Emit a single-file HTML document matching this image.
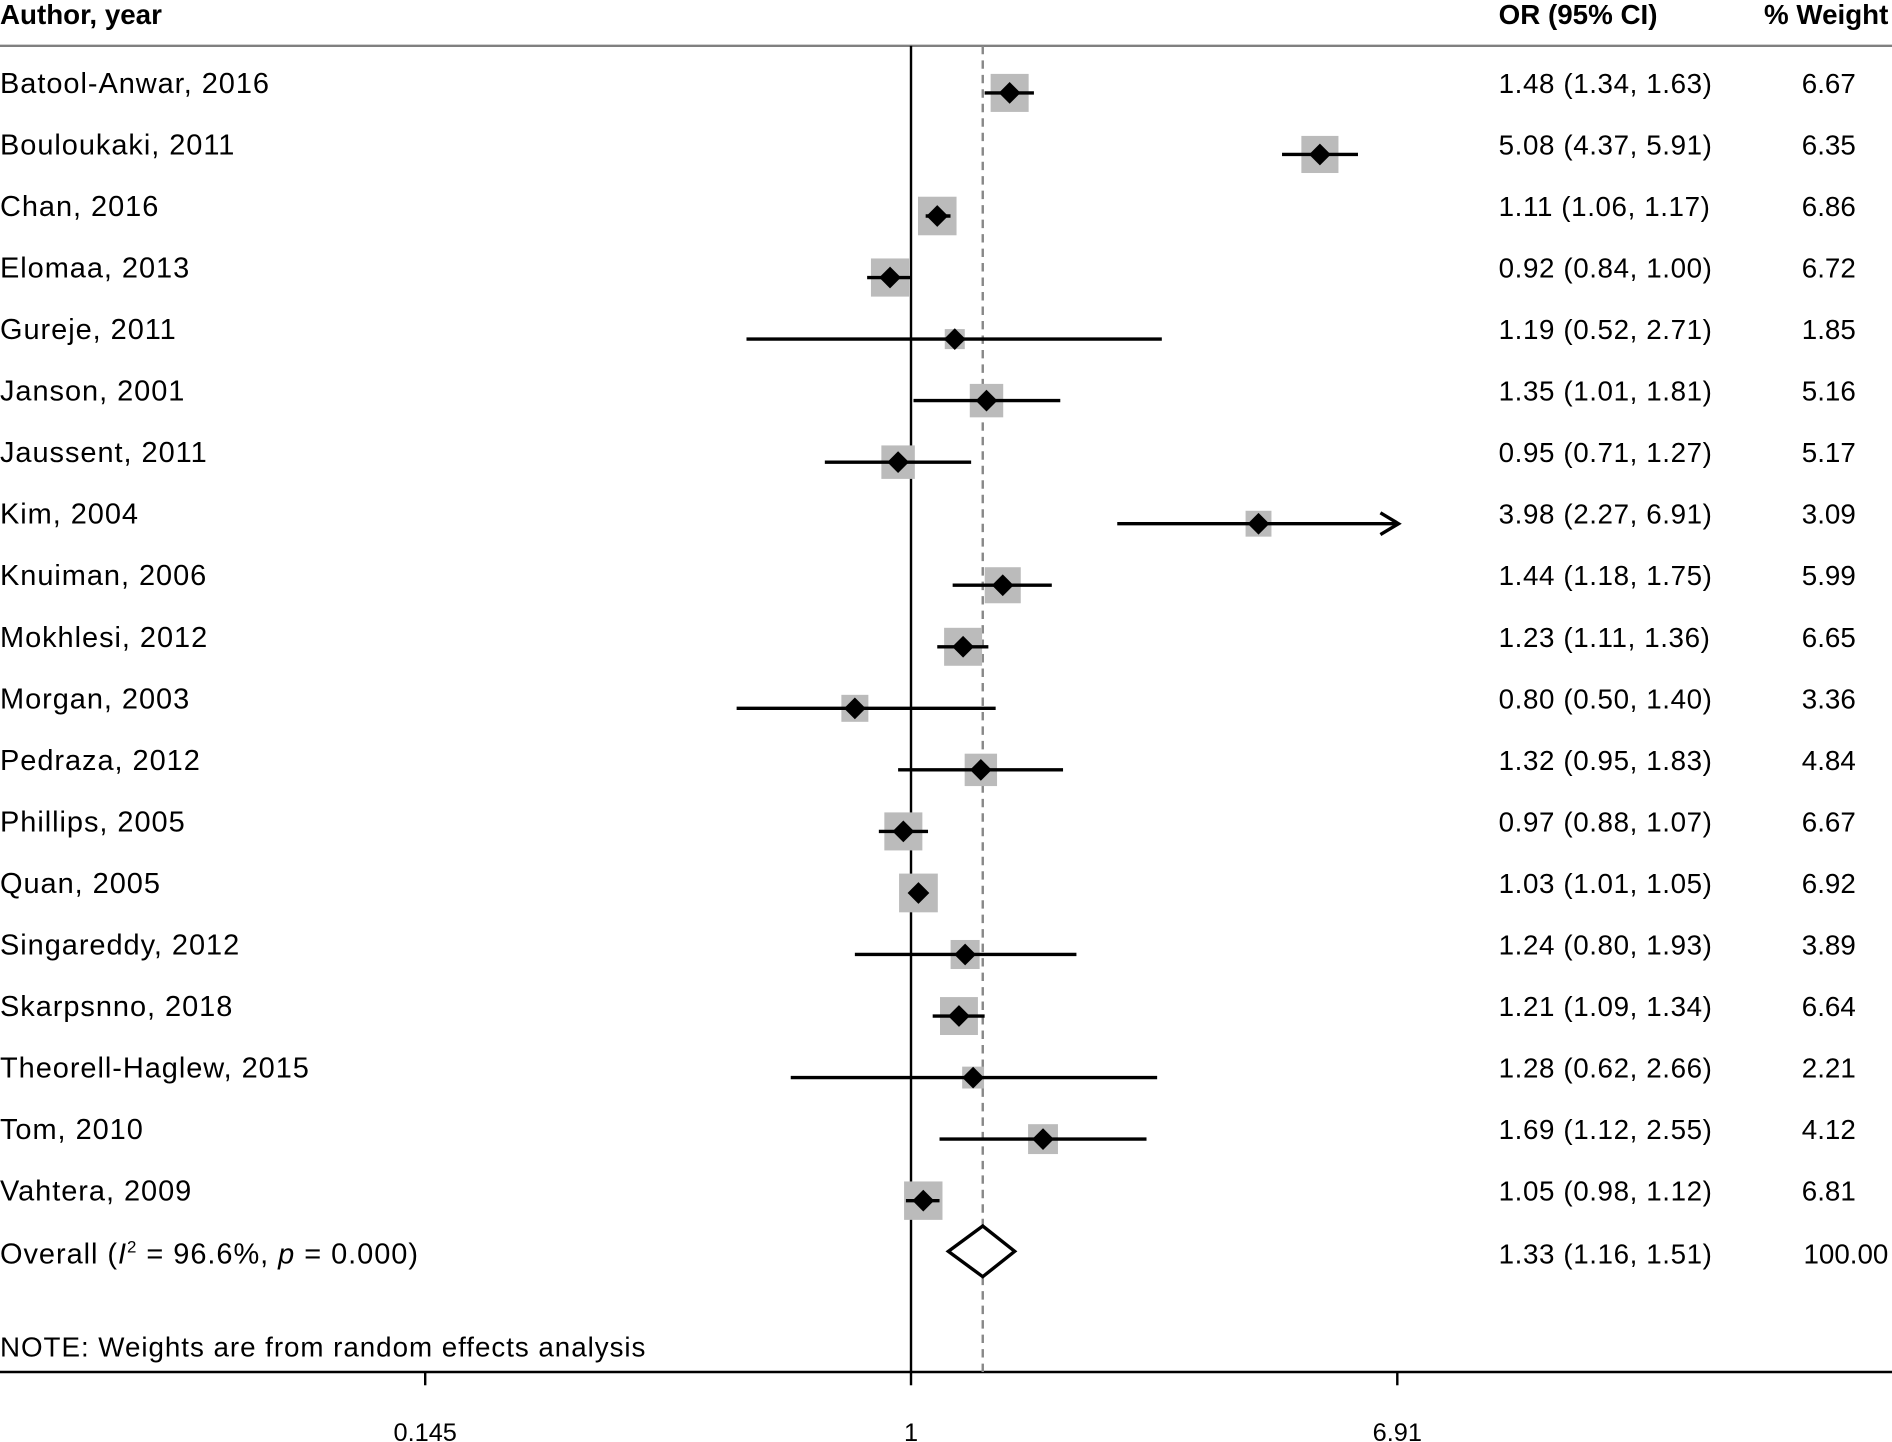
<!DOCTYPE html>
<html><head><meta charset="utf-8"><style>
html,body{margin:0;padding:0;background:#fff;}
svg{display:block;font-family:"Liberation Sans",sans-serif;}
</style></head><body>
<svg id="chart" width="1892" height="1442" viewBox="0 0 1568 1195" preserveAspectRatio="none" xmlns="http://www.w3.org/2000/svg">
<g id="static">
<text x="0" y="20" font-size="23" font-weight="bold">Author, year</text>
<text x="1242" y="20" font-size="23" font-weight="bold">OR (95% CI)</text>
<text x="1565" y="20" font-size="23" font-weight="bold" text-anchor="end">% Weight</text>
<line x1="0" y1="38" x2="1568" y2="38" stroke="#808080" stroke-width="2"/>
<line x1="0" y1="1137" x2="1568" y2="1137" stroke="#000" stroke-width="2"/>
<text x="0" y="1124" font-size="23" letter-spacing="0.8">NOTE: Weights are from random effects analysis</text>
</g>
<g id="marks"></g>
</svg>
<script>
const studies=["Batool-Anwar, 2016","Bouloukaki, 2011","Chan, 2016","Elomaa, 2013","Gureje, 2011","Janson, 2001","Jaussent, 2011","Kim, 2004","Knuiman, 2006","Mokhlesi, 2012","Morgan, 2003","Pedraza, 2012","Phillips, 2005","Quan, 2005","Singareddy, 2012","Skarpsnno, 2018","Theorell-Haglew, 2015","Tom, 2010","Vahtera, 2009"];
const orVals=[1.48,5.08,1.11,0.92,1.19,1.35,0.95,3.98,1.44,1.23,0.80,1.32,0.97,1.03,1.24,1.21,1.28,1.69,1.05];
const lowVals=[1.34,4.37,1.06,0.84,0.52,1.01,0.71,2.27,1.18,1.11,0.50,0.95,0.88,1.01,0.80,1.09,0.62,1.12,0.98];
const highVals=[1.63,5.91,1.17,1.00,2.71,1.81,1.27,6.91,1.75,1.36,1.40,1.83,1.07,1.05,1.93,1.34,2.66,2.55,1.12];
const weights=[6.67,6.35,6.86,6.72,1.85,5.16,5.17,3.09,5.99,6.65,3.36,4.84,6.67,6.92,3.89,6.64,2.21,4.12,6.81];
const ciLabels=["1.48 (1.34, 1.63)","5.08 (4.37, 5.91)","1.11 (1.06, 1.17)","0.92 (0.84, 1.00)","1.19 (0.52, 2.71)","1.35 (1.01, 1.81)","0.95 (0.71, 1.27)","3.98  (2.27, 6.91)","1.44 (1.18, 1.75)","1.23 (1.11, 1.36)","0.80 (0.50, 1.40)","1.32 (0.95, 1.83)","0.97 (0.88, 1.07)","1.03 (1.01, 1.05)","1.24 (0.80, 1.93)","1.21 (1.09, 1.34)","1.28 (0.62, 2.66)","1.69 (1.12, 2.55)","1.05 (0.98, 1.12)"];
const overall=[1.33,1.16,1.51];
const overallLabel="1.33 (1.16, 1.51)";
const tickVals=[0.145,1,6.91];
const tickLabels=["0.145","1","6.91"];
const axisMax=6.91;

const NS="http://www.w3.org/2000/svg";
const g=document.getElementById('marks');
const xs=v=>755+208.5*Math.log(v);
const rowY=i=>77+51*i;
function mk(t,a,txt){const e=document.createElementNS(NS,t);for(const k in a)e.setAttribute(k,a[k]);if(txt!=null)e.textContent=txt;g.appendChild(e);return e;}

const nullLine=mk('line',{x1:xs(1),y1:38,x2:xs(1),y2:1137,stroke:'#000','stroke-width':2});


const ovLine=mk('line',{x1:xs(overall[0]),y1:38,x2:xs(overall[0]),y2:1137,stroke:'#888','stroke-width':2,'stroke-dasharray':'7,5'});



studies.forEach((s,i)=>{
  const y=rowY(i);
  const t=mk('text',{x:0,y:y,'font-size':24,'letter-spacing':0.8},s);
  
  
  const side=12.2*Math.sqrt(weights[i]);
  const b=mk('rect',{x:xs(orVals[i])-side/2,y:y-side/2,width:side,height:side,fill:'#bbb'});
  
  
  const hi=Math.min(highVals[i],axisMax);
  const l=mk('line',{x1:xs(lowVals[i]),y1:y,x2:xs(hi),y2:y,stroke:'#000','stroke-width':2.8});
  
  
  if(highVals[i]>=axisMax){
    const a=mk('path',{d:`M${xs(hi)-14},${y-9} L${xs(hi)+1},${y} L${xs(hi)-14},${y+9}`,fill:'none',stroke:'#000','stroke-width':2.8});
    
    
  }
  const cx=xs(orVals[i]);
  const d=mk('path',{d:`M${cx-9},${y} L${cx},${y-9} L${cx+9},${y} L${cx},${y+9}Z`,fill:'#000'});
  
  
  const c=mk('text',{x:1242,y:y,'font-size':23,'letter-spacing':0.5},ciLabels[i]);
  
  
  const w=mk('text',{x:1538,y:y,'font-size':23,'text-anchor':'end'},weights[i].toFixed(2));
  
  
});

const oy=1037;
const ot=mk('text',{x:0,y:oy+10,'font-size':24,'letter-spacing':0.8});
ot.innerHTML='Overall (<tspan font-style="italic">I</tspan><tspan font-size="14" dy="-9">2</tspan><tspan dy="9"> = 96.6%, </tspan><tspan font-style="italic">p</tspan> = 0.000)';


const dia=mk('path',{d:`M${xs(overall[1])},${oy} L${xs(overall[0])},${oy-21} L${xs(overall[2])},${oy} L${xs(overall[0])},${oy+21}Z`,fill:'#fff',stroke:'#000','stroke-width':2.8});


const oc=mk('text',{x:1242,y:oy+10,'font-size':23,'letter-spacing':0.5},overallLabel);


const ow=mk('text',{x:1565,y:oy+10,'font-size':23,'text-anchor':'end'},'100.00');



tickVals.forEach((v,i)=>{
  const tk=mk('line',{x1:xs(v),y1:1137,x2:xs(v),y2:1148,stroke:'#000','stroke-width':2});
  
  
  const tl=mk('text',{x:xs(v),y:1194,'font-size':21,'text-anchor':'middle'},tickLabels[i]);
  
  
});
</script>
</body></html>
